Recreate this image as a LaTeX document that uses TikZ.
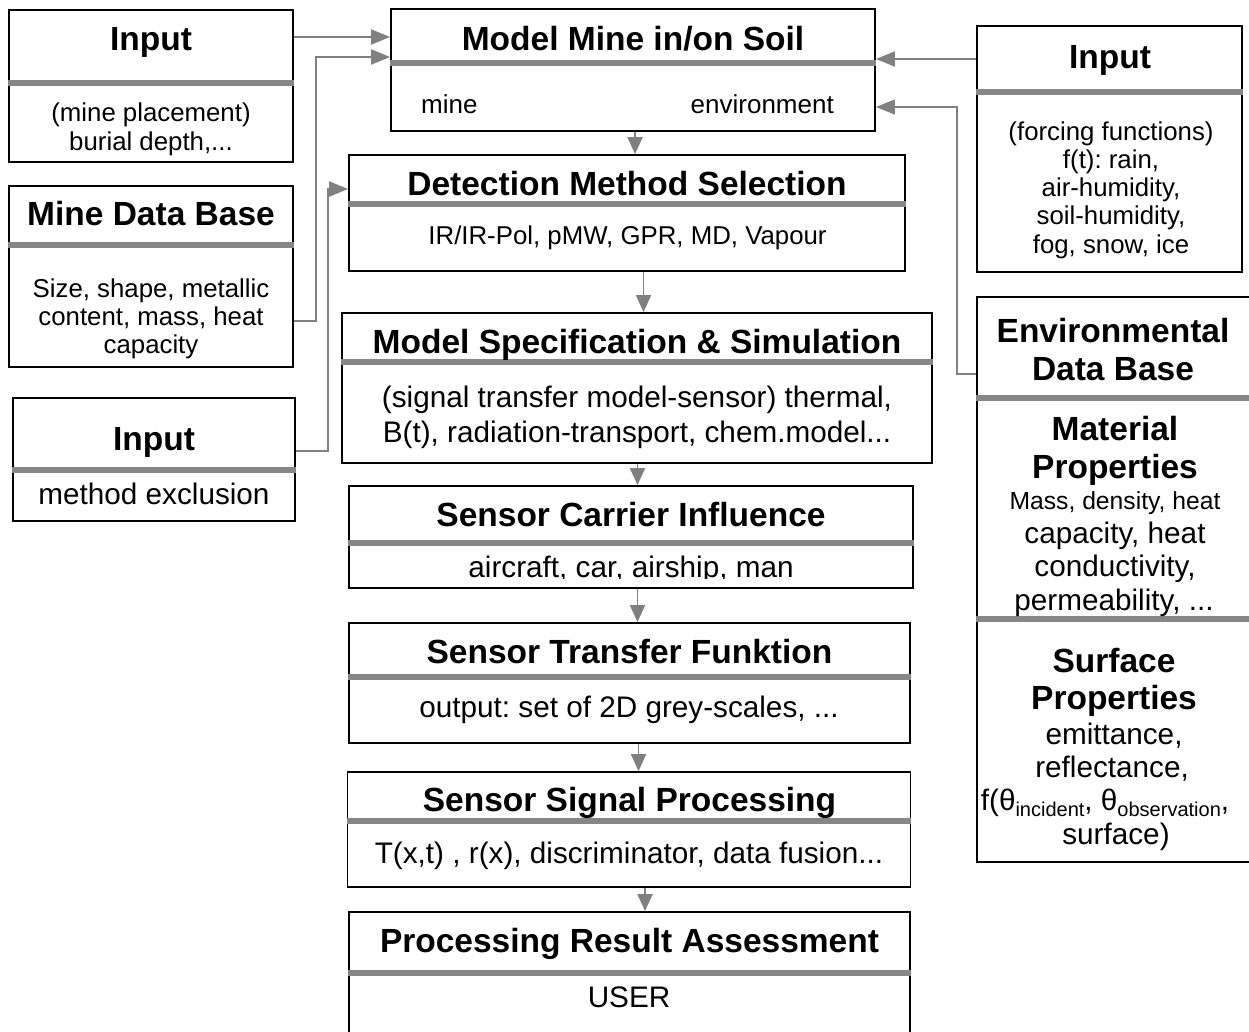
\documentclass[tikz,border=0pt]{standalone}
\usepackage{fontspec}
\setmainfont{Liberation Sans}
\usetikzlibrary{arrows.meta}
\definecolor{divgray}{HTML}{878787}
\definecolor{arrgray}{HTML}{808080}
\frenchspacing
\begin{document}
\begin{tikzpicture}[x=1pt,y=-1pt,
  box/.style={draw=black, line width=1.8pt, inner sep=0pt},
  divider/.style={draw=divgray, line width=5.5pt},
  arr/.style={draw=arrgray, line width=1.9pt, -{Triangle[length=19pt,width=15pt]}},
  thinarr/.style={draw=arrgray, line width=1.3pt, -{Triangle[length=19pt,width=15pt]}},
  varr/.style={draw=arrgray, line width=1.9pt, -{Triangle[length=17pt,width=15pt]}},
  ttl/.style={inner sep=0pt, anchor=base, font=\fontsize{33.5}{40}\selectfont\bfseries},
  bodyA/.style={inner sep=0pt, anchor=base, font=\fontsize{25.8}{30}\selectfont},
  bodyB/.style={inner sep=0pt, anchor=base, font=\fontsize{29.7}{34}\selectfont},
  bodyC/.style={inner sep=0pt, anchor=base, font=\fontsize{24.7}{29}\selectfont},
]
\useasboundingbox (0,0) rectangle (1249,1031);

% ---------- boxes ----------
\node[box, minimum width=284pt, minimum height=152pt] (in1) at (151,86) {};
\node[box, minimum width=284pt, minimum height=181pt] (mdb) at (151,276.5) {};
\node[box, minimum width=282pt, minimum height=123pt] (in3) at (154,459.5) {};
\node[box, minimum width=484pt, minimum height=122pt] (mm) at (633,70) {};
\node[box, minimum width=556pt, minimum height=116pt] (dms) at (627,213) {};
\node[box, minimum width=590pt, minimum height=150pt] (mss) at (637,388) {};
\node[box, minimum width=564pt, minimum height=102pt] (sci) at (631,537) {};
\node[box, minimum width=561pt, minimum height=120pt] (stf) at (629.5,683) {};
\node[box, minimum width=563pt, minimum height=115pt] (ssp) at (629,829.5) {};
\node[box, minimum width=561pt, minimum height=128pt] (pra) at (629.5,976) {};
\node[box, minimum width=265pt, minimum height=246pt] (inr) at (1109.5,149) {};
\node[box, minimum width=280pt, minimum height=565pt] (env) at (1117,579.5) {};

% ---------- helper coordinates ----------
\coordinate (d83) at (0,83);   \coordinate (d245) at (0,245); \coordinate (d470) at (0,470);
\coordinate (d63) at (0,63);   \coordinate (d204) at (0,204); \coordinate (d362) at (0,362);
\coordinate (d543) at (0,543); \coordinate (d677) at (0,677); \coordinate (d821) at (0,821);
\coordinate (d973) at (0,973); \coordinate (d92) at (0,92);   \coordinate (d398) at (0,398);
\coordinate (d619) at (0,619);

% ---------- dividers ----------
\draw[divider] (in1.west |- d83) -- (in1.east |- d83);
\draw[divider] (mdb.west |- d245) -- (mdb.east |- d245);
\draw[divider] (in3.west |- d470) -- (in3.east |- d470);
\draw[divider] (mm.west |- d63) -- (mm.east |- d63);
\draw[divider] (dms.west |- d204) -- (dms.east |- d204);
\draw[divider] (mss.west |- d362) -- (mss.east |- d362);
\draw[divider] (sci.west |- d543) -- (sci.east |- d543);
\draw[divider] (stf.west |- d677) -- (stf.east |- d677);
\draw[divider] (ssp.west |- d821) -- (ssp.east |- d821);
\draw[divider] (pra.west |- d973) -- (pra.east |- d973);
\draw[divider] (inr.west |- d92) -- (inr.east |- d92);
\draw[divider] (env.west |- d398) -- (env.east |- d398);
\draw[divider] (env.west |- d619) -- (env.east |- d619);

% ---------- texts: left column ----------
\node[ttl] (tin1) at (151,50) {Input};
\node[bodyA] (bin1a) at (151,121) {(mine placement)};
\node[bodyA] (bin1b) at (151,150) {burial depth,...};

\node[ttl] (tmdb) at (151,225) {Mine Data Base};
\node[bodyA] (bmdba) at (151,297) {Size, shape, metallic};
\node[bodyA] (bmdbb) at (151,325) {content, mass, heat};
\node[bodyA] (bmdbc) at (151,353) {capacity};

\node[ttl] (tin3) at (154,450) {Input};
\node[bodyB] (bin3) at (154,504) {method exclusion};

% ---------- texts: centre column ----------
\node[ttl] (tmm) at (633,50) {Model Mine in/on Soil};
\node[inner sep=0pt, anchor=base west, font=\fontsize{26}{30}\selectfont] (bmma) at (421,113) {mine};
\node[inner sep=0pt, anchor=base east, font=\fontsize{26}{30}\selectfont] (bmmb) at (834,113) {environment};

\node[ttl] (tdms) at (627,195) {Detection Method Selection};
\node[inner sep=0pt, anchor=base, font=\fontsize{25.8}{30}\selectfont] (bdms) at (627.5,244) {IR/IR-Pol, pMW, GPR, MD, Vapour};

\node[ttl] (tmss) at (637,353) {Model Specification \& Simulation};
\node[bodyB] (bmssa) at (637,407) {(signal transfer model-sensor) thermal,};
\node[bodyB] (bmssb) at (637,442) {B(t), radiation-transport, chem.model...};

\node[ttl] (tsci) at (631,526) {Sensor Carrier Influence};
\begin{scope}
  \clip (350,546) rectangle (912,578.5);
  \node[bodyB] (bsci) at (631,577.5) {aircraft, car, airship, man};
\end{scope}

\node[ttl] (tstf) at (629.5,663) {Sensor Transfer Funktion};
\node[bodyB] (bstf) at (629,717) {output: set of 2D grey-scales, ...};

\node[ttl] (tssp) at (629.5,811) {Sensor Signal Processing};
\node[bodyB] (bssp) at (629,863) {T(x,t) , r(x), discriminator, data fusion...};

\node[ttl] (tpra) at (629.5,952) {Processing Result Assessment};
\node[bodyB] (bpra) at (629,1007) {USER};

% ---------- texts: right column ----------
\node[ttl] (tinr) at (1110,68) {Input};
\node[bodyA] (binra) at (1111,140) {(forcing functions)};
\node[bodyA] (binrb) at (1111,168) {f(t): rain,};
\node[bodyA] (binrc) at (1111,196) {air-humidity,};
\node[bodyA] (binrd) at (1111,224) {soil-humidity,};
\node[bodyA] (binre) at (1111,253) {fog, snow, ice};

\node[ttl] (tenva) at (1113,342) {Environmental};
\node[ttl] (tenvb) at (1113,380) {Data Base};
\node[ttl] (tmata) at (1115,440) {Material};
\node[ttl] (tmatb) at (1115,478) {Properties};
\node[bodyC] (bmata) at (1115,509) {Mass, density, heat};
\node[bodyB] (bmatb) at (1115,543) {capacity, heat};
\node[bodyB] (bmatc) at (1115,576) {conductivity,};
\node[bodyB] (bmatd) at (1114,610) {permeability, ...};
\node[ttl] (tsura) at (1114,672) {Surface};
\node[ttl] (tsurb) at (1114,709) {Properties};
\node[bodyB] (bsura) at (1114,744) {emittance,};
\node[bodyB] (bsurb) at (1112,777) {reflectance,};
\node[bodyB] (bsurc) at (1105,810) {f(θ\raisebox{-6pt}{\fontsize{20}{20}\selectfont incident}, θ\raisebox{-6pt}{\fontsize{20}{20}\selectfont observation},};
\node[bodyB] (bsurd) at (1116,844) {surface)};

% ---------- connectors ----------
\coordinate (h37) at (0,37);   \coordinate (h57) at (0,57);
\coordinate (h321) at (0,321); \coordinate (h451) at (0,451);
\coordinate (h189) at (0,189); \coordinate (h59) at (0,59);
\coordinate (h374) at (0,374); \coordinate (h107) at (0,107);

\draw[arr] (in1.east |- h37) -- (mm.west |- h37);
\draw[arr] (mdb.east |- h321) -- ++(22,0) |- (mm.west |- h57);
\draw[arr] (in3.east |- h451) -- ++(32,0) |- (dms.west |- h189);
\draw[arr] (inr.west |- h59) -- (mm.east |- h59);
\draw[thinarr] (env.west |- h374) -- ++(-19,0) |- (mm.east |- h107);

\coordinate (v1) at (635,0);  \coordinate (v2) at (643.5,0);
\coordinate (v3) at (637.5,0); \coordinate (v4) at (637.5,0);
\coordinate (v5) at (638.5,0); \coordinate (v6) at (645,0);
\draw[varr] (mm.south -| v1) -- (dms.north -| v1);
\draw[varr] (dms.south -| v2) -- (mss.north -| v2);
\draw[varr] (mss.south -| v3) -- (sci.north -| v3);
\draw[varr] (sci.south -| v4) -- (stf.north -| v4);
\draw[varr] (stf.south -| v5) -- (ssp.north -| v5);
\draw[varr] (ssp.south -| v6) -- (pra.north -| v6);
\end{tikzpicture}
\end{document}
